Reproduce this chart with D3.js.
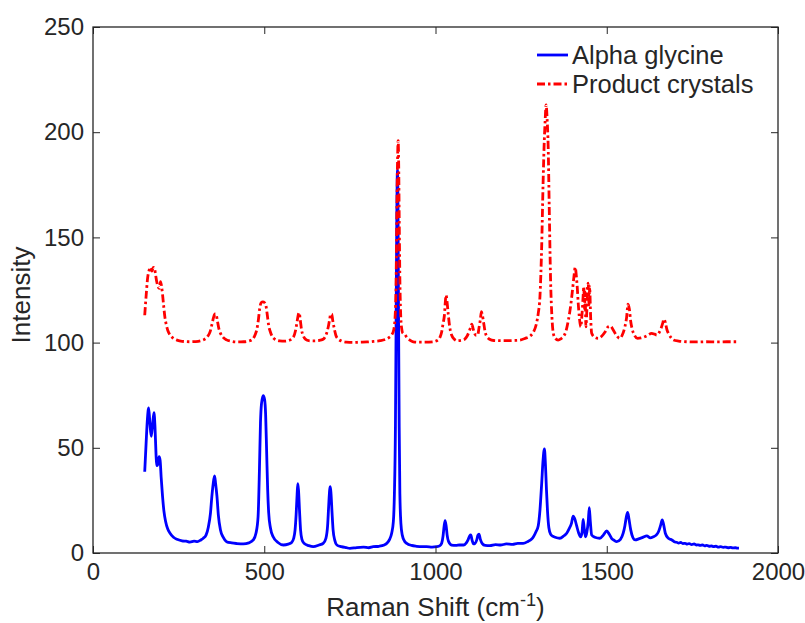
<!DOCTYPE html>
<html>
<head>
<meta charset="utf-8">
<script src="https://cdn.jsdelivr.net/npm/d3@7/dist/d3.min.js"></script>
<style>
  html, body { margin: 0; padding: 0; background: #fff; }
  svg { display: block; }
  text { font-family: "Liberation Sans", Arial, Helvetica, sans-serif; fill: #262626; }
</style>
</head>
<body>
<svg id="chart" width="805" height="623"></svg>
<script>
// Raman spectra: [shift (cm^-1), intensity]
const alphaGlycine = [
  [151,38.6],[155,52],[159,64],[162.5,69],[166,62],[170,55.5],[174,61],[178,66.7],[181,60],[184,47],
  [186,41.5],[189,42],[193,45.8],[196,44],[199,36],[203,27],[207,20],[212,15],[218,11.5],[225,9.4],
  [235,7.5],[245,6.5],[260,5.8],[272,5.6],[283,5.2],[295,5.6],[305,5.4],[315,6.2],[322,7],[330,8.5],
  [337,12.5],[343,19],[347,26.8],[351,33],[355,36.6],[358,33],[362,26.8],[366,18],[372,11],[380,7.5],
  [390,5.4],[405,4.8],[420,4.5],[439,4.3],[455,4.8],[468,6.2],[476,9.5],[482,17.3],[486,40],[489,62],
  [492,71],[497,74.8],[501,73],[504,66],[507,48],[510,30],[513,19],[518,12],[526,7.7],[540,5],
  [556,3.8],[570,4.2],[580,5],[586,7],[590,11],[593,18],[596,28],[598,33],[600,30],[603,20],
  [606,11],[610,6.5],[616,4.6],[630,3.5],[643,3],[660,3.8],[672,4.6],[680,7],[685,13],[688,22],
  [691,30],[693,31.5],[695,28],[698,19],[701,11],[706,6],[712,3.8],[725,3],[740,2.5],[750,2.2],
  [770,2.6],[790,2.8],[805,2.5],[818,3],[835,3.2],[850,3.8],[858,4.6],[866,6.5],[872,9.4],[877,15],
  [880,28],[883,60],[885,110],[887,160],[889,182],[890.5,165],[892,115],[894,60],[896,28],[899,14],
  [903,8.5],[910,5.5],[916,4.6],[930,3.6],[945,3.2],[960,3],[974,3],[990,2.8],[1003,3],[1013,3.5],
  [1018,4.6],[1022,8],[1025,12.5],[1028,15.4],[1031,13],[1034,8.5],[1038,5.5],[1047,3.8],[1060,3.6],[1070,3.8],
  [1082,3.8],[1090,4.8],[1095,6.2],[1100,8.2],[1103,8.6],[1107,6],[1111,4.3],[1115,4.5],[1120,6],[1124,8.5],
  [1127,9],[1131,6.5],[1136,4.6],[1145,3.6],[1159,3.5],[1175,4],[1190,3.8],[1207,4.3],[1225,4.1],[1240,4.6],
  [1256,4.6],[1270,5.5],[1280,6.5],[1286,7.7],[1293,10],[1300,13],[1305,20.4],[1310,33],[1314,44],[1318,49.5],
  [1321,42],[1324,30],[1327,20],[1331,12],[1336,9],[1342,8],[1349,7.5],[1363,7],[1375,8.2],[1383,9.4],
  [1390,11.5],[1397,14.1],[1402,17.5],[1406,16.5],[1412,13],[1418,9.5],[1424,7.7],[1428,10],[1431,16],[1434,12],
  [1438,7.7],[1442,10],[1446,15],[1449,21.5],[1452,15],[1456,8.6],[1465,7.5],[1480,7],[1490,8.5],[1500,10.5],
  [1507,9],[1514,7],[1522,6],[1529,5.4],[1540,6.5],[1548,9.4],[1553,13],[1557,17],[1561,19.3],[1565,16],
  [1570,11],[1576,7.5],[1583,6.2],[1595,6.8],[1605,7.4],[1617,8.1],[1627,7.2],[1636,7.7],[1645,8.6],[1651,10.1],
  [1657,13],[1662,15.7],[1666,13.5],[1671,9.4],[1680,7],[1690,6.2],[1697,5.4],[1704,5.1],[1710,4.7],[1716,5],
  [1722,4.5],[1729,4.6],[1735,4.2],[1741,4.5],[1748,4],[1755,4.3],[1761,3.8],[1767,3.9],[1773,3.6],[1780,3.8],
  [1786,3.4],[1792,3.6],[1799,3.2],[1806,3.4],[1812,3],[1819,3.2],[1826,2.8],[1833,3],[1840,2.7],[1847,2.8],
  [1854,2.5],[1861,2.7],[1868,2.4],[1875,2.5],[1881,2.3],[1886,2.3]
];

const productCrystals = [
  [151,113],[155,122],[159,130],[164,134.5],[168,135.8],[172,134],[176,135.8],[180,135],[183,132],[186,129],
  [189,127],[192,126],[194,125.8],[197,129],[200,127],[203,123],[206,118],[210,112],[214,108.5],[219,105.5],
  [225,103.6],[235,102],[245,101.2],[260,100.6],[283,100.4],[300,100.5],[315,100.9],[325,101.5],[335,103],[342,105.2],
  [347,108.5],[352,112],[356,113.6],[359,113.6],[363,110.5],[367,107],[372,104.5],[380,102.5],[390,101.3],[405,100.6],
  [420,100.3],[440,100.4],[458,100.9],[468,102],[474,104],[478,106],[483,111],[487,116.5],[491,119],[496,119.4],
  [501,119],[505,117.5],[509,113],[513,108],[517,105.5],[523,103],[531,101.6],[545,100.8],[560,100.7],[575,101.2],
  [585,102.5],[591,105.5],[595,109],[599,113],[602,114.2],[605,111],[609,106],[614,103.2],[621,101.5],[630,100.9],
  [645,100.8],[660,101],[672,101.6],[680,103.5],[687,107.5],[691,111],[694,113.6],[697,113.6],[700,110.5],[704,107],
  [709,103.5],[716,101.7],[725,100.8],[740,100.2],[760,100.1],[780,100.2],[800,100.3],[820,100.6],[838,100.9],[855,101.6],
  [865,102.5],[872,103.6],[878,106],[882,112],[885,130],[887,160],[889,185],[891,196],[892.5,185],[894,160],
  [896,130],[898,115],[901,107],[905,104.4],[910,104],[916,102.5],[925,101.2],[935,100.4],[950,100.2],[970,100.2],
  [993,100.4],[1005,101],[1013,102.5],[1018,105],[1022,109],[1026,113],[1029,120],[1031,122.6],[1034,119],[1037,113.9],
  [1041,108],[1047,103.6],[1055,101.6],[1062,100.9],[1075,101.1],[1085,101.6],[1092,103],[1098,105.2],[1103,107.5],[1106,108.8],
  [1110,106.5],[1115,104.1],[1119,103.5],[1123,103.5],[1127,107],[1131,111],[1134,114.7],[1137,113],[1141,109],[1145,105],
  [1150,102.8],[1158,101.6],[1170,101],[1188,100.9],[1210,100.9],[1230,101],[1247,101.2],[1262,102],[1276,103.1],[1286,105],
  [1295,109.2],[1300,113.9],[1305,122],[1310,145.6],[1314,175],[1317,193],[1320,205],[1323,213],[1326,206],[1329,193],
  [1332,165],[1336,129.8],[1340,112],[1344,104.4],[1350,102],[1358,101.2],[1366,101.8],[1373,102.8],[1381,105.5],[1388,110.7],
  [1395,118],[1400,125],[1404,131],[1408,135.8],[1411,132],[1414,126],[1417,118],[1420,112],[1424,107.5],[1428,114],
  [1431,122],[1433,126.6],[1435,116],[1437,124],[1439,107.5],[1442,116],[1444,127],[1446,128.2],[1448,118],[1450,126.6],
  [1453,112],[1456,104.4],[1465,102.5],[1475,102],[1485,103],[1495,105],[1504,107.5],[1511,107.8],[1519,106],[1528,103.5],
  [1538,102],[1545,103.5],[1553,107.5],[1558,112],[1562,118.3],[1566,116],[1570,110],[1575,106],[1581,103.5],[1590,102],
  [1600,102.2],[1611,102.8],[1620,103.5],[1631,104.4],[1640,104],[1646,103.6],[1652,104.5],[1658,106.5],[1663,109],[1667,111.2],
  [1671,109.5],[1676,106],[1680,104.4],[1687,102.5],[1695,101.2],[1710,100.7],[1733,100.4],[1760,100.3],[1790,100.4],[1820,100.3],
  [1850,100.4],[1884,100.4]
];

const xTicks = [0, 500, 1000, 1500, 2000];
const yTicks = [0, 50, 100, 150, 200, 250];
const seriesNames = ["Alpha glycine", "Product crystals"];
const seriesColors = ["#0000ff", "#ff0000"];

const margin = { left: 93, right: 27, top: 27, bottom: 70 };
const W = 805, H = 623;
const plotW = W - margin.left - margin.right;
const plotH = H - margin.top - margin.bottom;

const svg = d3.select("#chart");
const g = svg.append("g").attr("transform", `translate(${margin.left},${margin.top})`);

const x = d3.scaleLinear().domain([0, 2000]).range([0, plotW]);
const y = d3.scaleLinear().domain([0, 250]).range([plotH, 0]);

const tickFont = 24;
const labelFont = 26;
const legendFont = 25.5;
const tickLen = 7;
const dashPattern = "8,3,2.5,3";

// Spectra
const lineGen = d3.line().x(d => x(d[0])).y(d => y(d[1])).curve(d3.curveMonotoneX);

g.append("path")
  .datum(alphaGlycine)
  .attr("d", lineGen)
  .attr("fill", "none")
  .attr("stroke", seriesColors[0])
  .attr("stroke-width", 2.8)
  .attr("stroke-linejoin", "round");

g.append("path")
  .datum(productCrystals)
  .attr("d", lineGen)
  .attr("fill", "none")
  .attr("stroke", seriesColors[1])
  .attr("stroke-width", 2.8)
  .attr("stroke-dasharray", dashPattern);

// Axes with inward ticks on all four sides
const axisColor = "#262626";
function styleAxis(sel) {
  sel.select(".domain").remove();
  sel.selectAll(".tick line").attr("stroke", axisColor).attr("stroke-width", 1);
  sel.selectAll(".tick text").attr("font-size", tickFont).attr("fill", axisColor)
    .style("font-family", '"Liberation Sans", Arial, Helvetica, sans-serif');
}
const fmt = d3.format("d");

g.append("g").attr("transform", `translate(0,${plotH})`)
  .call(d3.axisBottom(x).tickValues(xTicks).tickFormat(fmt).tickSizeInner(-tickLen).tickSizeOuter(0).tickPadding(10))
  .call(styleAxis);
g.append("g")
  .call(d3.axisTop(x).tickValues(xTicks).tickSizeInner(-tickLen).tickSizeOuter(0).tickFormat(""))
  .call(styleAxis);
g.append("g")
  .call(d3.axisLeft(y).tickValues(yTicks).tickFormat(fmt).tickSizeInner(-tickLen).tickSizeOuter(0).tickPadding(9))
  .call(styleAxis);
g.append("g").attr("transform", `translate(${plotW},0)`)
  .call(d3.axisRight(y).tickValues(yTicks).tickSizeInner(-tickLen).tickSizeOuter(0).tickFormat(""))
  .call(styleAxis);

// Plot box
g.append("rect")
  .attr("width", plotW).attr("height", plotH)
  .attr("fill", "none").attr("stroke", axisColor).attr("stroke-width", 1.3);

// Axis titles
const xTitle = svg.append("text")
  .attr("x", margin.left + plotW / 2).attr("y", 616)
  .attr("text-anchor", "middle").attr("font-size", labelFont);
xTitle.append("tspan").text("Raman Shift (cm");
xTitle.append("tspan").attr("font-size", labelFont * 0.7).attr("dy", -10).text("-1");
xTitle.append("tspan").attr("dy", 10).text(")");

svg.append("text")
  .attr("transform", `translate(30,${margin.top + plotH / 2 + 5}) rotate(-90)`)
  .attr("text-anchor", "middle").attr("font-size", labelFont)
  .text("Intensity");

// Legend
const legend = svg.append("g").attr("transform", "translate(537,55)");
seriesNames.forEach((name, i) => {
  const row = legend.append("g").attr("transform", `translate(0,${i * 29})`);
  row.append("line")
    .attr("x1", 0).attr("x2", 31).attr("y1", 0).attr("y2", 0)
    .attr("stroke", seriesColors[i]).attr("stroke-width", 2.8)
    .attr("stroke-dasharray", i === 1 ? dashPattern : null);
  row.append("text")
    .attr("x", 35).attr("y", 0).attr("dy", "0.35em")
    .attr("font-size", legendFont).attr("fill", "#000")
    .text(name);
});
</script>
</body>
</html>
